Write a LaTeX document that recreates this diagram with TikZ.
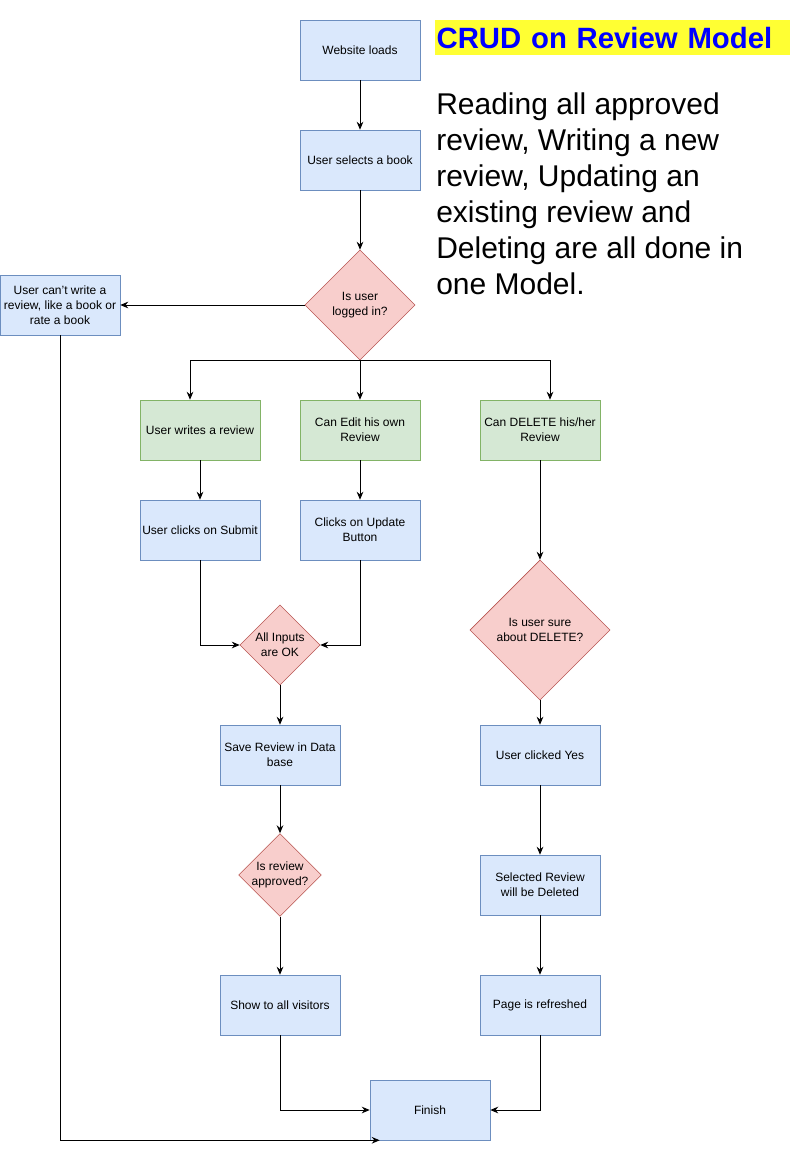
\documentclass[tikz,border=0pt]{standalone}
\usepackage{fontspec}
\setmainfont{Liberation Sans}
\usetikzlibrary{arrows,arrows.meta,shapes,positioning,calc}

\definecolor{boxblue}{HTML}{DAE8FC}
\definecolor{lineblue}{HTML}{6C8EBF}
\definecolor{boxgreen}{HTML}{D5E8D4}
\definecolor{linegreen}{HTML}{82B366}
\definecolor{boxred}{HTML}{F8CECC}
\definecolor{linered}{HTML}{B85450}
\definecolor{titleyellow}{HTML}{FFFF33}

\tikzset{
  stepbox/.style={draw=lineblue,fill=boxblue,minimum width=90pt,minimum height=45pt,
    align=center,inner sep=1pt,font=\fontsize{9}{11.25}\selectfont},
  greenbox/.style={stepbox,draw=linegreen,fill=boxgreen},
  decide/.style={diamond,draw=linered,fill=boxred,aspect=1,inner sep=0pt,
    align=center,font=\fontsize{9}{11.25}\selectfont},
  line/.style={-{Stealth[length=6pt,width=5pt,inset=2pt]},line width=0.75pt}
}

\begin{document}
\begin{tikzpicture}[x=0.75pt,y=-0.75pt]
\useasboundingbox (0,0) rectangle (801,1149);

\node[stepbox] (load) at (360,50){Website loads};
\node[stepbox] (select) at (360,160){User selects a book};
\node[decide,minimum width=82.5pt,minimum height=82.5pt] (logged) at (360,305){Is user\\logged in?};
\node[stepbox] (cant) at (60,305){User can't write a\\review, like a book or\\rate a book};

\node[greenbox] (write) at (200,430){User writes a review};
\node[greenbox] (edit) at (360,430){Can Edit his own\\Review};
\node[greenbox] (delete) at (540,430){Can DELETE his/her\\Review};

\node[stepbox] (submit) at (200,530){User clicks on Submit};
\node[stepbox] (update) at (360,530){Clicks on Update\\Button};
\node[decide,minimum width=60pt,minimum height=60pt] (inputs) at (280,645){All Inputs\\are OK};
\node[stepbox] (save) at (280,755){Save Review in Data\\base};
\node[decide,minimum width=60pt,minimum height=60pt] (approved) at (280,875){Is review\\approved?};
\node[stepbox] (show) at (280,1005){Show to all visitors};

\node[decide,minimum width=105pt,minimum height=105pt] (sure) at (540,630){Is user sure\\about DELETE?};
\node[stepbox] (yes) at (540,755){User clicked Yes};
\node[stepbox] (removed) at (540,885){Selected Review\\will be Deleted};
\node[stepbox] (refresh) at (540,1005){Page is refreshed};

\node[stepbox] (finish) at (430,1110){Finish};

% title and note
\node[fill=titleyellow,anchor=north west,minimum width=266pt,minimum height=26pt,
  text width=264pt,align=left,inner sep=0.5pt,text=blue,
  font=\fontsize{22}{26}\selectfont\bfseries] (title) at (435,20){CRUD on Review Model};
\node[anchor=north west,align=left,inner sep=0pt,font=\fontsize{22.5}{27}\selectfont] (note) at (436,92)
  {Reading all approved\\review, Writing a new\\review, Updating an\\existing review and\\Deleting are all done in\\one Model.};

\draw[line] (load) -- (select);
\draw[line] (select) -- (logged);
\draw[line] (logged) -- (cant);
\draw[line] (logged.south) -| ($(write.north)+(-10,0)$);
\draw[line] (logged.south) -- (edit.north);
\draw[line] (logged.south) -| ($(delete.north)+(10,0)$);

\draw[line] (write) -- (submit);
\draw[line] (edit) -- (update);
\draw[line] (submit.south) |- (inputs.west);
\draw[line] (update.south) |- (inputs.east);
\draw[line] (inputs) -- (save);
\draw[line] (save) -- (approved);
\draw[line] (approved) -- (show);
\draw[line] (show.south) |- (finish.west);

\draw[line] (delete) -- (sure);
\draw[line] (sure) -- (yes);
\draw[line] (yes) -- (removed);
\draw[line] (removed) -- (refresh);
\draw[line] (refresh.south) |- (finish.east);

\draw[line] (cant.south) |- ($(finish.south west)+(10,0)$);
\end{tikzpicture}
\end{document}
